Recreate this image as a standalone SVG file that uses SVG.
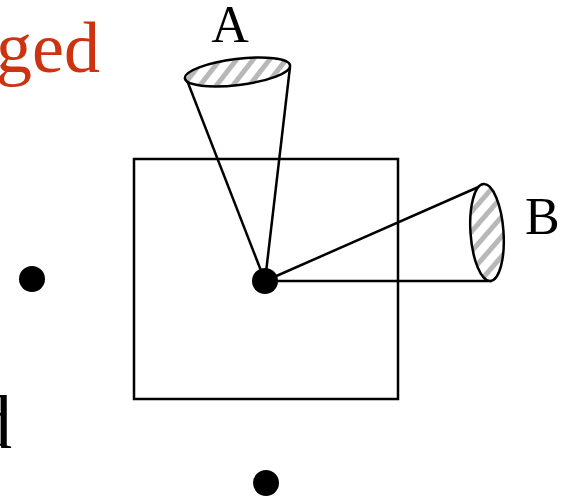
<svg xmlns="http://www.w3.org/2000/svg" width="566" height="498" viewBox="0 0 566 498">
<defs>
<pattern id="hatch" patternUnits="userSpaceOnUse" width="13" height="13" patternTransform="rotate(45)">
<rect width="13" height="13" fill="#ffffff"/>
<rect x="0" y="0" width="5" height="13" fill="#b8b8b8"/>
</pattern>
</defs>
<style>
.lbl{font-family:"Liberation Serif","Times New Roman",serif;fill:#000}
.ln{stroke:#000;stroke-width:2.5;fill:none}
.dot{fill:#000}
.cap{stroke:#000;stroke-width:2.5;fill:url(#hatch)}
</style>
<rect width="566" height="498" fill="#ffffff"/>
<text class="lbl" x="100" y="72" font-size="72" text-anchor="end" style="fill:#cc3310">ged</text>
<text class="lbl" x="12" y="448" font-size="76" text-anchor="end">d</text>
<g id="box"><rect class="ln" x="134" y="159" width="264" height="240"/></g>
<g id="connectors">
<line class="ln" x1="265" y1="281" x2="186.5" y2="79"/>
<line class="ln" x1="265" y1="281" x2="290" y2="67"/>
<line class="ln" x1="265" y1="281" x2="483" y2="185"/>
<line class="ln" x1="265" y1="281" x2="492" y2="281"/>
</g>
<g id="coneA"><ellipse class="cap" cx="237.5" cy="72" rx="53" ry="13" transform="rotate(-7 237.5 72)"/>
<text class="lbl" x="230" y="42" font-size="52" text-anchor="middle">A</text></g>
<g id="coneB"><ellipse class="cap" cx="487" cy="232.5" rx="16.5" ry="48.5" transform="rotate(-4 487 232.5)"/>
<text class="lbl" x="525" y="234" font-size="52">B</text></g>
<g id="center"><circle class="dot" cx="265" cy="281" r="13"/></g>
<g id="left"><circle class="dot" cx="32" cy="279" r="13"/></g>
<g id="bottom"><circle class="dot" cx="266" cy="483" r="13"/></g>
</svg>
